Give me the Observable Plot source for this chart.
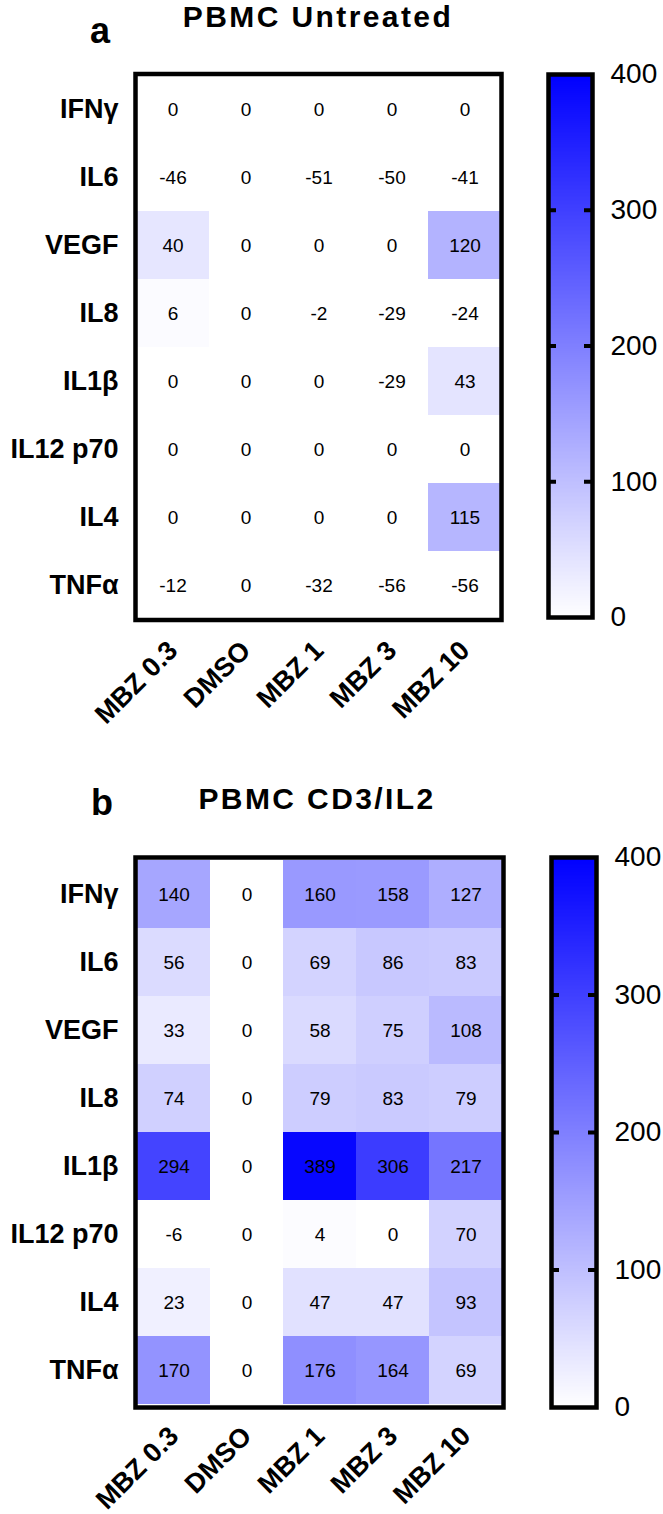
<!DOCTYPE html>
<html><head><meta charset="utf-8">
<script src="https://cdn.jsdelivr.net/npm/d3@7"></script>
<script src="https://cdn.jsdelivr.net/npm/@observablehq/plot@0.6"></script>
<style>
body{margin:0;background:#fff;}
#root{position:relative;width:663px;height:1514px;overflow:hidden;font-family:"Liberation Sans",Arial,sans-serif;}
.part{position:absolute;}
.title{position:absolute;font-weight:bold;font-size:30px;line-height:30px;letter-spacing:2.4px;text-align:center;width:440px;white-space:nowrap;color:#000;}
.letter{position:absolute;font-weight:bold;font-size:36px;line-height:36px;color:#000;}
</style></head><body><div id="root"></div>
<script>
// ---- data ----
const rows = ["IFNγ","IL6","VEGF","IL8","IL1β","IL12 p70","IL4","TNFα"];
const cols = ["MBZ 0.3","DMSO","MBZ 1","MBZ 3","MBZ 10"];
const untreatedValues = [
  [0, 0, 0, 0, 0],
  [-46, 0, -51, -50, -41],
  [40, 0, 0, 0, 120],
  [6, 0, -2, -29, -24],
  [0, 0, 0, -29, 43],
  [0, 0, 0, 0, 0],
  [0, 0, 0, 0, 115],
  [-12, 0, -32, -56, -56]
];
const cd3il2Values = [
  [140, 0, 160, 158, 127],
  [56, 0, 69, 86, 83],
  [33, 0, 58, 75, 108],
  [74, 0, 79, 83, 79],
  [294, 0, 389, 306, 217],
  [-6, 0, 4, 0, 70],
  [23, 0, 47, 47, 93],
  [170, 0, 176, 164, 69]
];
const colorDomain = [0, 400];
const colorTicks = [0, 100, 200, 300, 400];
const innerTicks = [100, 200, 300];

// ---- layout ----
const FONT = '"Liberation Sans", Arial, sans-serif';
const panels = [
  {letter: "a", title: "PBMC Untreated", values: untreatedValues, top: 0, H: 783,
   frame: {x0: 135, x1: 501, y0: 73.5, y1: 619.5}, bar: {x0: 548, x1: 592, y0: 74, y1: 617},
   titleBaseline: 28, titleCx: 318, letterBaseline: 43, letterX: 90, xPad: 26},
  {letter: "b", title: "PBMC CD3/IL2", values: cd3il2Values, top: 783, H: 731,
   frame: {x0: 135, x1: 503, y0: 857, y1: 1407}, bar: {x0: 551, x1: 596, y0: 857, y1: 1407},
   titleBaseline: 810, titleCx: 317, letterBaseline: 815, letterX: 91, xPad: 24}
];
const HEAT_W = 520;
const colorScale = {type: "linear", domain: colorDomain, range: ["white", "blue"], interpolate: "rgb", clamp: true};

const root = document.getElementById("root");

for (const p of panels) {
  const data = [];
  rows.forEach((r, i) => cols.forEach((c, j) => data.push({row: r, col: c, value: p.values[i][j]})));

  const heat = Plot.plot({
    width: HEAT_W, height: p.H,
    marginLeft: p.frame.x0, marginRight: HEAT_W - p.frame.x1,
    marginTop: p.frame.y0 - p.top, marginBottom: p.H - (p.frame.y1 - p.top),
    x: {domain: cols, padding: 0, axis: null},
    y: {domain: rows, padding: 0, axis: null},
    color: colorScale,
    style: {fontFamily: FONT, background: "transparent", overflow: "visible"},
    marks: [
      Plot.cell(data, {x: "col", y: "row", fill: "value"}),
      Plot.text(data, {x: "col", y: "row", text: d => String(d.value), fontSize: 19, fill: "black"}),
      Plot.frame({stroke: "black", strokeWidth: 4.5}),
      Plot.axisY({tickSize: 0, tickPadding: 17, fontSize: 27, fontWeight: "bold", fill: "black", label: null}),
      Plot.axisX({tickSize: 0, tickPadding: p.xPad, tickRotate: -45, fontSize: 27, fontWeight: "bold", fill: "black", label: null})
    ]
  });
  heat.classList.add("part");
  heat.style.left = "0px";
  heat.style.top = p.top + "px";
  root.appendChild(heat);

  const BW = 663 - HEAT_W;
  const barW = p.bar.x1 - p.bar.x0;
  const bar = Plot.plot({
    width: BW, height: p.H,
    marginLeft: p.bar.x0 - HEAT_W, marginRight: 663 - p.bar.x1,
    marginTop: p.bar.y0 - p.top, marginBottom: p.H - (p.bar.y1 - p.top),
    x: {domain: [0, 1], axis: null},
    y: {domain: colorDomain, axis: null},
    color: colorScale,
    style: {fontFamily: FONT, background: "transparent", overflow: "visible"},
    marks: [
      Plot.raster({x1: 0, x2: 1, y1: colorDomain[0], y2: colorDomain[1], width: 1, height: 400, fill: (x, y) => y}),
      Plot.tickY(innerTicks, {y: d => d, stroke: "black", strokeWidth: 4, insetRight: barW - 8}),
      Plot.tickY(innerTicks, {y: d => d, stroke: "black", strokeWidth: 4, insetLeft: barW - 8}),
      Plot.frame({stroke: "black", strokeWidth: 4.5}),
      Plot.axisY({anchor: "right", ticks: colorTicks, tickSize: 0, tickPadding: 18, fontSize: 28, fill: "black", label: null})
    ]
  });
  bar.classList.add("part");
  bar.style.left = HEAT_W + "px";
  bar.style.top = p.top + "px";
  root.appendChild(bar);

  const t = document.createElement("div");
  t.className = "title";
  t.textContent = p.title;
  t.style.left = (p.titleCx - 220) + "px";
  t.style.top = (p.titleBaseline - 26.4) + "px";
  root.appendChild(t);

  const l = document.createElement("div");
  l.className = "letter";
  l.textContent = p.letter;
  l.style.left = p.letterX + "px";
  l.style.top = (p.letterBaseline - 0.8465 * 36) + "px";
  root.appendChild(l);
}
</script>
</body></html>
